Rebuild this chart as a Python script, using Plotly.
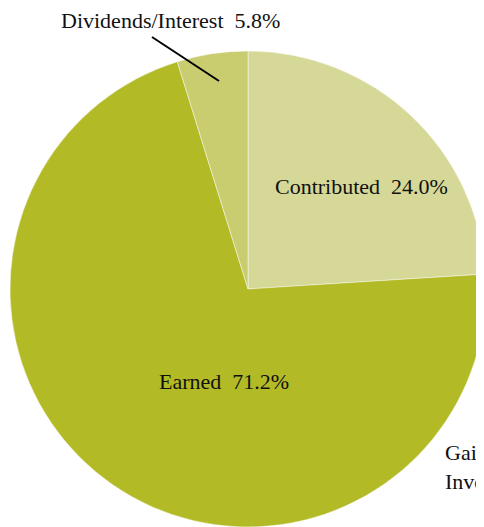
import plotly.graph_objects as go

# Data
categories = ["Contributed", "Earned", "Dividends/Interest"]
values = [24.0, 71.2, 4.8]          # slice sizes as drawn
label_texts = ["Contributed  24.0%", "Earned  71.2%", "Dividends/Interest  5.8%"]
colors = ["#d5d896", "#b2ba26", "#c9cd6f"]
extra_label = "Gains on<br>Investments"

W, H = 484, 527
FONT = "Liberation Serif, DejaVu Serif, serif"
OFF = 8  # browser default body margin

def px(x):
    return (x - OFF) / W

def py(y):
    return 1 - (y - OFF) / H

fig = go.Figure(go.Pie(
    labels=categories,
    values=values,
    sort=False,
    direction="clockwise",
    rotation=0,
    marker=dict(colors=colors, line=dict(color="rgba(255,255,255,0.45)", width=1)),
    textinfo="none",
    hoverinfo="label+percent",
    showlegend=False,
    domain=dict(x=[2 / W, 478 / W], y=[8 / H, 1 - 43 / H]),
))

annos = [
    (361, 187, label_texts[0], "center"),
    (224, 381, label_texts[1], "center"),
    (170, 20, label_texts[2], "center"),
]
for x, y, t, anc in annos:
    fig.add_annotation(x=px(x), y=py(y), xref="paper", yref="paper", text=t,
                       showarrow=False, xanchor=anc, yanchor="middle",
                       font=dict(family=FONT, size=22, color="#111"))

fig.add_annotation(x=px(443), y=py(467), xref="paper", yref="paper", text=extra_label,
                   showarrow=False, xanchor="left", yanchor="middle", align="left",
                   font=dict(family=FONT, size=22, color="#111"))

fig.add_shape(type="line", xref="paper", yref="paper",
              x0=px(152), y0=py(37), x1=px(219), y1=py(81),
              line=dict(color="black", width=2))

fig.update_layout(width=W, height=H, margin=dict(l=0, r=0, t=0, b=0),
                  paper_bgcolor="white", plot_bgcolor="white",
                  font=dict(family=FONT))

fig.write_html("out.html", config={"displayModeBar": False})
